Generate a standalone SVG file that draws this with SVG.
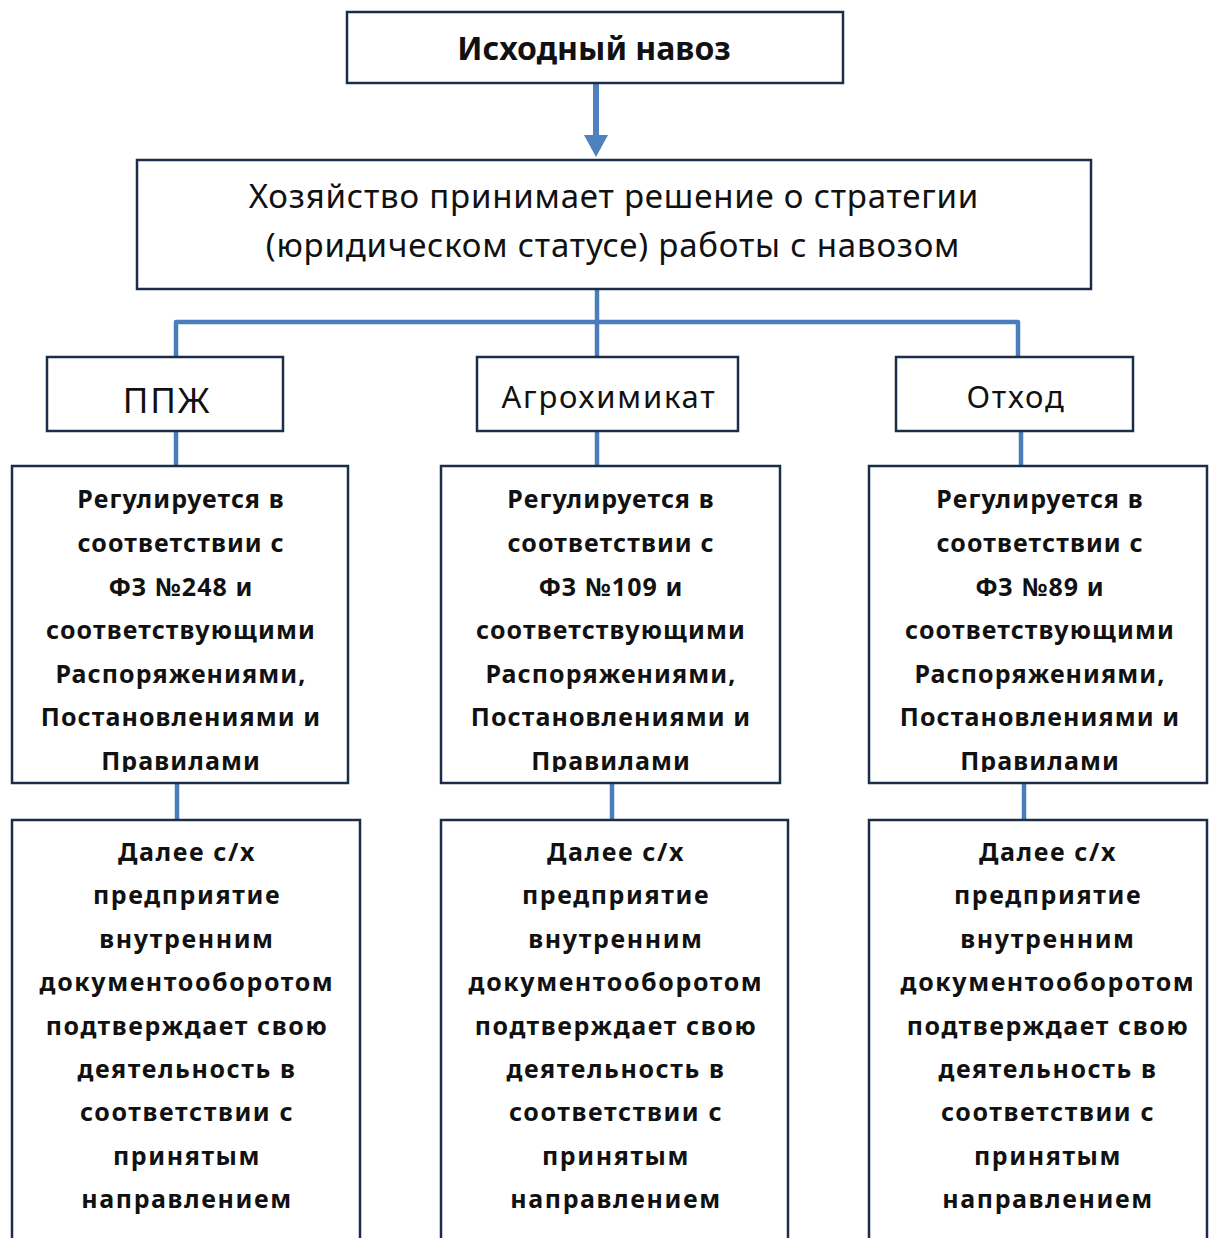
<svg xmlns="http://www.w3.org/2000/svg" width="1213" height="1238" viewBox="0 0 1213 1238">
<style>
.box{fill:#fff;stroke:#1c2d4a;stroke-width:2.5}
.con{fill:none;stroke:#4a7ebb;stroke-width:4.5;stroke-linejoin:round}
.t{font-family:"Noto Sans","DejaVu Sans",sans-serif;fill:#111;text-anchor:middle}
.h{font-size:32px;font-weight:bold}
.m{font-size:33px;letter-spacing:0.8px}
.c{font-size:31px;letter-spacing:1.8px}
.b{font-size:25px;font-weight:bold;letter-spacing:1.1px}
.d{font-size:25px;font-weight:bold;letter-spacing:1.6px}
</style>
<defs>
<clipPath id="clip1"><rect x="12" y="466" width="336" height="306"/></clipPath>
<clipPath id="clip2"><rect x="441" y="466" width="339" height="306"/></clipPath>
<clipPath id="clip3"><rect x="869" y="466" width="338" height="306"/></clipPath>
</defs>
<rect width="1213" height="1238" fill="#fff"/>
<g id="connectors">
<line class="con" x1="596" y1="84" x2="596" y2="138" style="stroke:#4f81bd;stroke-width:6"/>
<polygon points="584,135 608,135 596,157" fill="#4f81bd"/>
<path class="con" d="M597,289 V322"/>
<path class="con" d="M176,357 V322 H1018 V357"/>
<path class="con" d="M597,322 V357"/>
<path class="con" d="M176,431 V466"/>
<path class="con" d="M597,431 V466"/>
<path class="con" d="M1021,431 V466"/>
<path class="con" d="M177,783 V820"/>
<path class="con" d="M612,783 V820"/>
<path class="con" d="M1024,783 V820"/>
</g>
<g id="node-source">
<rect class="box" x="347" y="12" width="496" height="71"/>
<text class="t h" x="594" y="60">Исходный навоз</text>
</g>
<g id="node-decision">
<rect class="box" x="137" y="160" width="954" height="129"/>
<text class="t m" x="614" y="208">Хозяйство принимает решение о стратегии</text>
<text class="t m" x="613" y="257">(юридическом статусе) работы с навозом</text>
</g>
<g id="node-ppzh">
<rect class="box" x="47" y="357" width="236" height="74"/>
<text class="t c" x="167" y="413" style="font-size:35px">ППЖ</text>
</g>
<g id="node-agro">
<rect class="box" x="477" y="357" width="261" height="74"/>
<text class="t c" x="609" y="408">Агрохимикат</text>
</g>
<g id="node-waste">
<rect class="box" x="896" y="357" width="237" height="74"/>
<text class="t c" x="1016" y="408">Отход</text>
</g>
<g id="node-reg1">
<rect class="box" x="12" y="466" width="336" height="317"/>
<text class="t b" clip-path="url(#clip1)"><tspan x="181" y="508">Регулируется в</tspan><tspan x="181" y="552">соответствии с</tspan><tspan x="181" y="596">ФЗ №248 и</tspan><tspan x="181" y="639">соответствующими</tspan><tspan x="181" y="683">Распоряжениями,</tspan><tspan x="181" y="726">Постановлениями и</tspan><tspan x="181" y="770">Правилами</tspan></text>
</g>
<g id="node-reg2">
<rect class="box" x="441" y="466" width="339" height="317"/>
<text class="t b" clip-path="url(#clip2)"><tspan x="611" y="508">Регулируется в</tspan><tspan x="611" y="552">соответствии с</tspan><tspan x="611" y="596">ФЗ №109 и</tspan><tspan x="611" y="639">соответствующими</tspan><tspan x="611" y="683">Распоряжениями,</tspan><tspan x="611" y="726">Постановлениями и</tspan><tspan x="611" y="770">Правилами</tspan></text>
</g>
<g id="node-reg3">
<rect class="box" x="869" y="466" width="338" height="317"/>
<text class="t b" clip-path="url(#clip3)"><tspan x="1040" y="508">Регулируется в</tspan><tspan x="1040" y="552">соответствии с</tspan><tspan x="1040" y="596">ФЗ №89 и</tspan><tspan x="1040" y="639">соответствующими</tspan><tspan x="1040" y="683">Распоряжениями,</tspan><tspan x="1040" y="726">Постановлениями и</tspan><tspan x="1040" y="770">Правилами</tspan></text>
</g>
<g id="node-next1">
<rect class="box" x="12" y="820" width="348" height="440"/>
<text class="t d"><tspan x="187" y="861">Далее с/х</tspan><tspan x="187" y="904">предприятие</tspan><tspan x="187" y="948">внутренним</tspan><tspan x="187" y="991">документооборотом</tspan><tspan x="187" y="1035">подтверждает свою</tspan><tspan x="187" y="1078">деятельность в</tspan><tspan x="187" y="1121">соответствии с</tspan><tspan x="187" y="1165">принятым</tspan><tspan x="187" y="1208">направлением</tspan></text>
</g>
<g id="node-next2">
<rect class="box" x="441" y="820" width="347" height="440"/>
<text class="t d"><tspan x="616" y="861">Далее с/х</tspan><tspan x="616" y="904">предприятие</tspan><tspan x="616" y="948">внутренним</tspan><tspan x="616" y="991">документооборотом</tspan><tspan x="616" y="1035">подтверждает свою</tspan><tspan x="616" y="1078">деятельность в</tspan><tspan x="616" y="1121">соответствии с</tspan><tspan x="616" y="1165">принятым</tspan><tspan x="616" y="1208">направлением</tspan></text>
</g>
<g id="node-next3">
<rect class="box" x="869" y="820" width="338" height="440"/>
<text class="t d"><tspan x="1048" y="861">Далее с/х</tspan><tspan x="1048" y="904">предприятие</tspan><tspan x="1048" y="948">внутренним</tspan><tspan x="1048" y="991">документооборотом</tspan><tspan x="1048" y="1035">подтверждает свою</tspan><tspan x="1048" y="1078">деятельность в</tspan><tspan x="1048" y="1121">соответствии с</tspan><tspan x="1048" y="1165">принятым</tspan><tspan x="1048" y="1208">направлением</tspan></text>
</g>
</svg>
